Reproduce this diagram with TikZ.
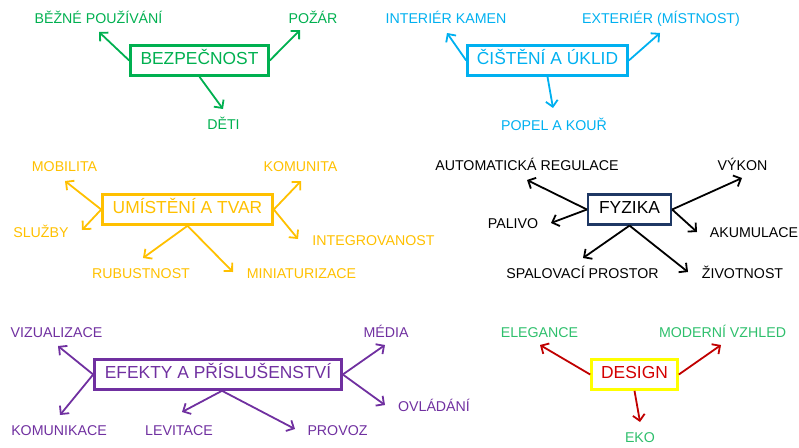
\documentclass[tikz,border=0pt]{standalone}
\usepackage{fontspec}
\setmainfont{Liberation Sans}
\usetikzlibrary{arrows.meta}
\definecolor{cgreen}{HTML}{00B050}
\definecolor{clabgreen}{HTML}{2EBF6C}
\definecolor{cblue}{HTML}{00B0F0}
\definecolor{cyellow}{HTML}{FFC000}
\definecolor{cnavy}{HTML}{1F3864}
\definecolor{cpurple}{HTML}{7030A0}
\definecolor{cdred}{HTML}{C00000}
\definecolor{cred}{HTML}{D40000}
\definecolor{cbright}{HTML}{FFFF00}
\tikzset{
  topic/.style={draw, line width=2.6pt, inner sep=0pt, minimum height=30pt,
    text height=0.716em, text depth=0pt, align=center,
    font=\fontsize{17.4}{20}\selectfont},
  leaf/.style={inner sep=0pt, text height=0.716em, text depth=0pt, yshift=-1.5pt,
    font=\fontsize{14.2}{16}\selectfont},
  arr/.style={line width=1.8pt, -{Straight Barb[length=6pt,width=12pt]}},
}
\begin{document}
\begin{tikzpicture}[x=1pt,y=-1pt]
\useasboundingbox (0,0) rectangle (799,447);

% --- Bezpečnost
\node[topic, draw=cgreen, text=cgreen, minimum width=138pt] (bez) at (199.5,60.5) {BEZPEČNOST};
\node[leaf, text=cgreen] (bez1) at (98.5,18) {BĚŽNÉ POUŽÍVÁNÍ};
\node[leaf, text=cgreen] (bez2) at (313,18) {POŽÁR};
\node[leaf, text=cgreen] (bez3) at (223.5,124) {DĚTI};
\coordinate (bez1t) at (99,32);
\coordinate (bez2t) at (300,30);
\coordinate (bez3t) at (223,109);
\draw[arr, cgreen] (bez.west) -- (bez1t);
\draw[arr, cgreen] (bez.east) -- (bez2t);
\draw[arr, cgreen] (bez.south) -- (bez3t);

% --- Čištění a úklid
\node[topic, draw=cblue, text=cblue, minimum width=160pt] (cis) at (547.5,60.5) {ČIŠTĚNÍ A ÚKLID};
\node[leaf, text=cblue] (cis1) at (446,18) {INTERIÉR KAMEN};
\node[leaf, text=cblue] (cis2) at (661,18) {EXTERIÉR (MÍSTNOST)};
\node[leaf, text=cblue] (cis3) at (554,125) {POPEL A KOUŘ};
\coordinate (cis1t) at (447,33);
\coordinate (cis2t) at (660,33);
\coordinate (cis3t) at (553,108);
\draw[arr, cblue] (cis.west) -- (cis1t);
\draw[arr, cblue] (cis.east) -- (cis2t);
\draw[arr, cblue] (cis.south) -- (cis3t);

% --- Umístění a tvar
\node[topic, draw=cyellow, text=cyellow, minimum width=170pt] (umi) at (187.5,209.5) {UMÍSTĚNÍ A TVAR};
\node[leaf, text=cyellow] (umi1) at (64.5,166) {MOBILITA};
\node[leaf, text=cyellow] (umi2) at (300.5,166) {KOMUNITA};
\node[leaf, text=cyellow] (umi3) at (41,232) {SLUŽBY};
\node[leaf, text=cyellow] (umi4) at (373.5,240) {INTEGROVANOST};
\node[leaf, text=cyellow] (umi5) at (141,273) {RUBUSTNOST};
\node[leaf, text=cyellow] (umi6) at (301.5,273) {MINIATURIZACE};
\coordinate (umi1t) at (65,181);
\coordinate (umi2t) at (301,181);
\coordinate (umi3t) at (82,230);
\coordinate (umi4t) at (298,239);
\coordinate (umi5t) at (143,258);
\coordinate (umi6t) at (233,272);
\draw[arr, cyellow] (umi.west) -- (umi1t);
\draw[arr, cyellow] (umi.west) -- (umi3t);
\draw[arr, cyellow] (umi.east) -- (umi2t);
\draw[arr, cyellow] (umi.east) -- (umi4t);
\draw[arr, cyellow] (umi.south) -- (umi5t);
\draw[arr, cyellow] (umi.south) -- (umi6t);

% --- Fyzika
\node[topic, draw=cnavy, text=black, minimum width=83pt, line width=2.2pt] (fyz) at (629.5,209.5) {FYZIKA};
\node[leaf, text=black] (fyz1) at (527,165) {AUTOMATICKÁ REGULACE};
\node[leaf, text=black] (fyz2) at (742.5,165) {VÝKON};
\node[leaf, text=black] (fyz3) at (513,223) {PALIVO};
\node[leaf, text=black] (fyz4) at (754,232) {AKUMULACE};
\node[leaf, text=black] (fyz5) at (582.5,273) {SPALOVACÍ PROSTOR};
\node[leaf, text=black] (fyz6) at (742.5,273) {ŽIVOTNOST};
\coordinate (fyz1t) at (527,180);
\coordinate (fyz2t) at (742,178);
\coordinate (fyz3t) at (551,223);
\coordinate (fyz4t) at (697,232);
\coordinate (fyz5t) at (583,258);
\coordinate (fyz6t) at (688,272);
\draw[arr, black] (fyz.west) -- (fyz1t);
\draw[arr, black] (fyz.west) -- (fyz3t);
\draw[arr, black] (fyz.east) -- (fyz2t);
\draw[arr, black] (fyz.east) -- (fyz4t);
\draw[arr, black] (fyz.south) -- (fyz5t);
\draw[arr, black] (fyz.south) -- (fyz6t);

% --- Efekty a příslušenství
\node[topic, draw=cpurple, text=cpurple, minimum width=247pt] (efe) at (218,374.5) {EFEKTY A PŘÍSLUŠENSTVÍ};
\node[leaf, text=cpurple] (efe1) at (56.5,332) {VIZUALIZACE};
\node[leaf, text=cpurple] (efe2) at (386,332) {MÉDIA};
\node[leaf, text=cpurple] (efe3) at (59,430) {KOMUNIKACE};
\node[leaf, text=cpurple] (efe4) at (179,430) {LEVITACE};
\node[leaf, text=cpurple] (efe5) at (337.5,430) {PROVOZ};
\node[leaf, text=cpurple] (efe6) at (434,406) {OVLÁDÁNÍ};
\coordinate (efe1t) at (58,346);
\coordinate (efe2t) at (385,345);
\coordinate (efe3t) at (60,415);
\coordinate (efe4t) at (182,412);
\coordinate (efe5t) at (295,429);
\coordinate (efe6t) at (385,405);
\draw[arr, cpurple] (efe.west) -- (efe1t);
\draw[arr, cpurple] (efe.west) -- (efe3t);
\draw[arr, cpurple] (efe.east) -- (efe2t);
\draw[arr, cpurple] (efe.east) -- (efe6t);
\draw[arr, cpurple] ([xshift=4pt]efe.south) -- (efe4t);
\draw[arr, cpurple] ([xshift=4pt]efe.south) -- (efe5t);

% --- Design
\node[topic, draw=cbright, text=cred, minimum width=86pt] (des) at (634.5,374.5) {DESIGN};
\node[leaf, text=clabgreen] (des1) at (539.5,332) {ELEGANCE};
\node[leaf, text=clabgreen] (des2) at (722.5,332) {MODERNÍ VZHLED};
\node[leaf, text=clabgreen] (des3) at (640,437) {EKO};
\coordinate (des1t) at (540,345);
\coordinate (des2t) at (721,345);
\coordinate (des3t) at (640,422);
\draw[arr, cdred] (des.west) -- (des1t);
\draw[arr, cdred] (des.east) -- (des2t);
\draw[arr, cdred] (des.south) -- (des3t);
\end{tikzpicture}
\end{document}
